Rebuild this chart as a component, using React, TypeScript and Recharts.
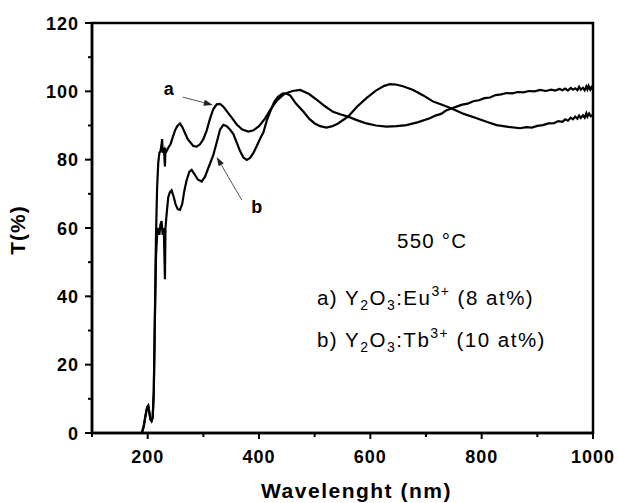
import React from 'react';
import {
  LineChart,
  Line,
  XAxis,
  YAxis,
  ReferenceArea,
  ReferenceLine,
  ReferenceDot,
} from 'recharts';

// curve a: Y2O3:Eu3+ (8 at%)
const waveA = [
  190, 193, 196, 199, 201, 203, 205, 207, 209, 211, 213, 215, 217, 219, 221, 223, 225, 226, 227, 229,
  230, 231, 232, 234, 237, 241, 245, 249, 253, 258, 262, 267, 272, 277, 282, 288, 294, 300, 306, 312,
  318, 324, 330, 336, 342, 351, 360, 370, 381, 390, 400, 411, 420, 432, 445, 460, 474, 490, 504, 518,
  533, 547, 560, 577, 593, 610, 629, 647, 665, 686, 707, 717, 727, 736, 746, 756, 765, 775, 785, 795,
  805, 815, 825, 835, 845, 855, 865, 875, 885, 895, 905, 915, 925, 932, 940, 945, 950, 955, 960, 964,
  968, 972, 975, 978, 982, 985, 988, 990, 992, 995, 997, 1000,
];
const transA = [
  0.3, 2, 5, 7.5, 8, 6, 4, 3.5, 4.5, 12, 35, 58, 72, 79, 82, 82.5, 84.5, 86, 82, 83.5,
  81, 78, 83, 82.5, 83.5, 84.5, 86.5, 88.5, 89.8, 90.6, 89.6, 87.8, 86, 85, 84, 83.8, 84.5, 86, 88.5, 92,
  94.8, 96.2, 96.3, 95.5, 94.2, 92.3, 90.3, 88.8, 88.2, 88.6, 89.8, 92.1, 94.5, 97.3, 99.2, 100.1, 100.4, 99.2, 97.5, 95.7,
  94, 93.2, 92.6, 91.5, 90.6, 90, 89.7, 89.8, 90.1, 91, 92.1, 92.9, 93.4, 94.4, 95, 95.6, 96.1, 96.4, 97.1, 97.4,
  98, 98.2, 98.9, 99.1, 99.5, 99.4, 99.8, 99.7, 100.1, 100, 100.4, 100.1, 100.5, 100.2, 100.7, 100.3, 100.8, 100.2, 101, 100.5,
  100.9, 100.3, 101.3, 100.5, 101, 100.3, 101.4, 100.6, 101.6, 100.5, 101.2, 100.4,
];

// curve b: Y2O3:Tb3+ (10 at%)
const waveB = [
  190, 193, 196, 199, 201, 203, 205, 207, 209, 211, 213, 215, 217, 219, 221, 223, 225, 227, 229, 231,
  232, 234, 237, 240, 243, 247, 250, 254, 258, 262, 266, 270, 275, 279, 284, 290, 297, 303, 310, 318,
  324, 330, 336, 342, 348, 354, 360, 366, 372, 378, 384, 390, 396, 403, 408, 414, 420, 427, 434, 443,
  450, 456, 466, 480, 490, 500, 510, 521, 532, 542, 551, 560, 576, 593, 610, 625, 635, 646, 660, 677,
  695, 713, 730, 746, 768, 791, 810, 827, 848, 869, 880, 890, 900, 910, 920, 930, 938, 945, 950, 955,
  960, 964, 968, 972, 975, 978, 982, 985, 988, 990, 993, 996, 1000,
];
const transB = [
  0.3, 2, 5, 7.5, 8, 6, 4, 3.5, 4.5, 12, 33, 52, 58, 60, 58, 61, 62, 58, 60, 45,
  60, 64, 69, 70.5, 71, 69, 67, 65.5, 65.3, 67, 71, 74, 76.5, 77, 75.8, 74.2, 73.6, 75, 78, 81.4,
  85, 88.8, 90.2, 89.8, 88.8, 87.5, 85, 82.5, 80.6, 79.9, 80.5, 82, 84, 86.5, 88, 91.5, 94, 96.8, 98.4, 99.4,
  99.3, 98.8, 96.5, 94, 92, 90.6, 89.8, 89.4, 89.8, 90.6, 91.6, 92.6, 95.5, 98, 100.2, 101.6, 102.1, 102, 101.4, 100.4,
  98.8, 97, 96, 95, 93.4, 92.1, 91, 90.1, 89.6, 89.2, 89.5, 89.4, 89.9, 90.1, 90.6, 90.7, 91.3, 91.1, 91.8, 91.4,
  92.3, 91.8, 92.6, 92, 92.9, 92.2, 93, 92.3, 93.6, 92.6, 93.5, 92.7, 93.1,
];

const xTicks = [100, 200, 300, 400, 500, 600, 700, 800, 900, 1000];
const xLabels = [200, 400, 600, 800, 1000];
const yTicks = [0, 10, 20, 30, 40, 50, 60, 70, 80, 90, 100, 110, 120];
const yLabels = [0, 20, 40, 60, 80, 100, 120];

const seriesA = waveA.map((x, i) => ({ x, t: transA[i] }));
const seriesB = waveB.map((x, i) => ({ x, t: transB[i] }));

const FONT = 'Arial, "Liberation Sans", sans-serif';

const XTick = ({ x, y, payload }: any) => {
  const major = xLabels.includes(payload.value);
  return (
    <g>
      <line x1={x} x2={x} y1={y} y2={y + (major ? 6 : 4)} stroke="#000" strokeWidth={2} />
      {major && (
        <text x={x} y={y + 30} textAnchor="middle" fontFamily={FONT} fontWeight="bold" fontSize={18} letterSpacing={1} fill="#000">
          {payload.value}
        </text>
      )}
    </g>
  );
};

const YTick = ({ x, y, payload }: any) => {
  const major = yLabels.includes(payload.value);
  return (
    <g>
      <line x1={x - (major ? 7 : 4)} x2={x} y1={y} y2={y} stroke="#000" strokeWidth={2} />
      {major && (
        <text x={x - 13} y={y + 6.5} textAnchor="end" fontFamily={FONT} fontWeight="bold" fontSize={18} letterSpacing={1} fill="#000">
          {payload.value}
        </text>
      )}
    </g>
  );
};

const Arrow = (p: any) => {
  const { x1, y1, x2, y2 } = p;
  const ang = Math.atan2(y2 - y1, x2 - x1);
  const L = 9;
  const W = 3;
  const bx = x2 - L * Math.cos(ang);
  const by = y2 - L * Math.sin(ang);
  const pts = `${x2},${y2} ${bx - W * Math.sin(ang)},${by + W * Math.cos(ang)} ${bx + W * Math.sin(ang)},${by - W * Math.cos(ang)}`;
  return (
    <g>
      <line x1={x1} y1={y1} x2={bx} y2={by} stroke="#555" strokeWidth={1} />
      <polygon points={pts} fill="#222" />
    </g>
  );
};

const Formula = ({ vb, dopant, conc }: any) => (
  <text x={vb.x} y={vb.y} fontFamily={FONT} fontSize={20.5} letterSpacing={1.5} fill="#000">
    {dopant[0] + ') Y'}
    <tspan fontSize={14} dy={5}>2</tspan>
    <tspan dy={-5}>O</tspan>
    <tspan fontSize={14} dy={5}>3</tspan>
    <tspan dy={-5}>{':' + dopant.slice(1)}</tspan>
    <tspan fontSize={14} dy={-9}>3+</tspan>
    <tspan dy={9}>{' (' + conc + ')'}</tspan>
  </text>
);

export default function App() {
  return (
    <div style={{ position: 'absolute', left: 0, top: 0, width: 618, height: 503, background: '#fff' }}>
      <LineChart width={618} height={503} margin={{ top: 23, right: 25, bottom: 0, left: 0 }}>
        <XAxis
          dataKey="x"
          type="number"
          domain={[100, 1000]}
          ticks={xTicks}
          interval={0}
          tick={<XTick />}
          tickLine={false}
          tickSize={0}
          tickMargin={0}
          height={70}
          axisLine={{ stroke: '#000', strokeWidth: 2.5 }}
          label={{
            content: (p: any) => (
              <text
                x={p.viewBox.x + p.viewBox.width / 2 + 14}
                y={p.viewBox.y + 65}
                textAnchor="middle"
                fontFamily={FONT}
                fontWeight="bold"
                fontSize={21}
                letterSpacing={1.5}
                fill="#000"
              >
                Wavelenght (nm)
              </text>
            ),
          }}
        />
        <YAxis
          type="number"
          domain={[0, 120]}
          ticks={yTicks}
          interval={0}
          tick={<YTick />}
          tickLine={false}
          tickSize={0}
          tickMargin={0}
          width={92}
          axisLine={{ stroke: '#000', strokeWidth: 2.5 }}
          label={{
            content: (p: any) => {
              const cx = p.viewBox.x + 25;
              const cy = p.viewBox.y + p.viewBox.height / 2 + 2;
              return (
                <text
                  x={cx}
                  y={cy}
                  transform={`rotate(-90, ${cx}, ${cy})`}
                  textAnchor="middle"
                  fontFamily={FONT}
                  fontWeight="bold"
                  fontSize={21}
                  letterSpacing={1}
                  fill="#000"
                >
                  T(%)
                </text>
              );
            },
          }}
        />
        <ReferenceArea x1={100} x2={1000} y1={0} y2={120} fill="none" stroke="#000" strokeWidth={2.5} />
        <Line data={seriesA} dataKey="t" type="linear" stroke="#000" strokeWidth={2.2} dot={false} isAnimationActive={false} />
        <Line data={seriesB} dataKey="t" type="linear" stroke="#000" strokeWidth={2.2} dot={false} isAnimationActive={false} />
        <ReferenceLine segment={[{ x: 263, y: 98.3 }, { x: 317, y: 96 }]} shape={Arrow} />
        <ReferenceLine segment={[{ x: 369, y: 68.2 }, { x: 324, y: 80.8 }]} shape={Arrow} />
        <ReferenceDot
          x={238}
          y={99}
          r={0}
          label={{
            content: (p: any) => (
              <text x={p.viewBox.x} y={p.viewBox.y} textAnchor="middle" fontFamily={FONT} fontWeight="bold" fontSize={18} fill="#000">
                a
              </text>
            ),
          }}
        />
        <ReferenceDot
          x={396}
          y={64.4}
          r={0}
          label={{
            content: (p: any) => (
              <text x={p.viewBox.x} y={p.viewBox.y} textAnchor="middle" fontFamily={FONT} fontWeight="bold" fontSize={18} fill="#000">
                b
              </text>
            ),
          }}
        />
        <ReferenceDot
          x={711}
          y={54.2}
          r={0}
          label={{
            content: (p: any) => (
              <text x={p.viewBox.x} y={p.viewBox.y} textAnchor="middle" fontFamily={FONT} fontSize={20.5} letterSpacing={1.2} fill="#000">
                550 °C
              </text>
            ),
          }}
        />
        <ReferenceDot
          x={504}
          y={37.5}
          r={0}
          label={{ content: (p: any) => <Formula vb={p.viewBox} dopant="aEu" conc="8 at%" /> }}
        />
        <ReferenceDot
          x={504}
          y={25.2}
          r={0}
          label={{ content: (p: any) => <Formula vb={p.viewBox} dopant="bTb" conc="10 at%" /> }}
        />
      </LineChart>
    </div>
  );
}
